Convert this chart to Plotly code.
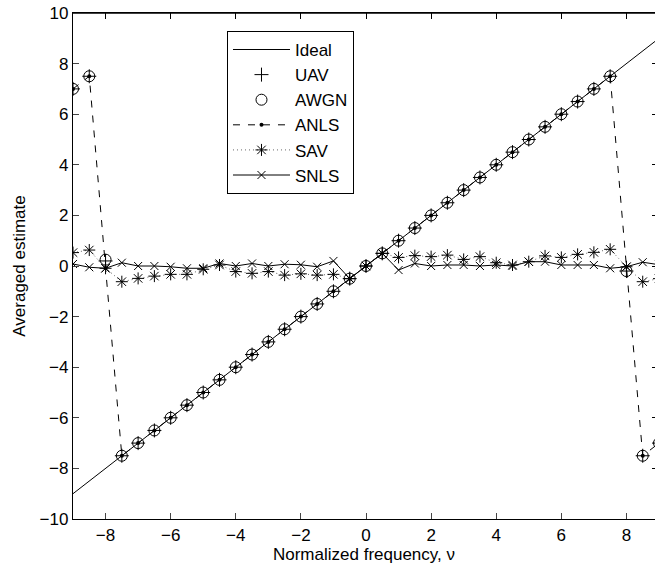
import plotly.graph_objects as go

nu = [-9, -8.5, -8, -7.5, -7, -6.5, -6, -5.5, -5, -4.5, -4, -3.5, -3, -2.5, -2, -1.5, -1, -0.5,
      0, 0.5, 1, 1.5, 2, 2.5, 3, 3.5, 4, 4.5, 5, 5.5, 6, 6.5, 7, 7.5, 8, 8.5, 9]

ideal_x = [-9, 9]
ideal_y = [-9, 9]

uav = [7, 7.5, 0.2, -7.5, -7, -6.5, -6, -5.5, -5, -4.5, -4, -3.5, -3, -2.5, -2, -1.5, -1, -0.5,
       0, 0.5, 1, 1.5, 2, 2.5, 3, 3.5, 4, 4.5, 5, 5.5, 6, 6.5, 7, 7.5, -0.2, -7.5, -7]
awgn = [7, 7.5, 0.25, -7.5, -7, -6.5, -6, -5.5, -5, -4.5, -4, -3.5, -3, -2.5, -2, -1.5, -1, -0.5,
        0, 0.5, 1, 1.5, 2, 2.5, 3, 3.5, 4, 4.5, 5, 5.5, 6, 6.5, 7, 7.5, -0.2, -7.5, -7]
anls = [7, 7.5, -0.08, -7.5, -7, -6.5, -6, -5.5, -5, -4.5, -4, -3.5, -3, -2.5, -2, -1.5, -1, -0.5,
        0, 0.5, 1, 1.5, 2, 2.5, 3, 3.5, 4, 4.5, 5, 5.5, 6, 6.5, 7, 7.5, -0.03, -7.5, -7]
sav = [0.53, 0.63, -0.09, -0.62, -0.49, -0.4, -0.33, -0.33, -0.13, 0.04, -0.22, -0.29, -0.22, -0.36,
       -0.31, -0.36, -0.33, -0.5, 0, 0.5, 0.34, 0.41, 0.37, 0.43, 0.26, 0.37, 0.13, 0.04, 0.17, 0.4,
       0.34, 0.46, 0.54, 0.66, -0.03, -0.62, -0.5]
snls = [0.08, -0.05, -0.09, 0.13, 0, 0, -0.03, -0.09, -0.09, 0.1, 0, 0.1, 0, 0.07, 0.05, -0.03, 0.2,
        -0.5, 0, 0.5, -0.16, 0.1, 0, 0.04, 0.04, 0, 0.04, 0, 0.17, 0.17, 0.04, 0.04, 0.04, -0.09,
        -0.03, 0.15, 0.05]

x_ticks = [-8, -6, -4, -2, 0, 2, 4, 6, 8]
y_ticks = [-10, -8, -6, -4, -2, 0, 2, 4, 6, 8, 10]

X_RANGE = [-9, 8.877]
Y_RANGE = [-10, 10]
FONT = "Liberation Sans, Arial, Helvetica, sans-serif"

fig = go.Figure()
fig.add_trace(go.Scatter(x=ideal_x, y=ideal_y, mode="lines", name="Ideal", xaxis="x2", yaxis="y2",
                         line=dict(color="black", width=1), legendgroup="a", legendrank=1))
fig.add_trace(go.Scatter(x=nu, y=uav, mode="markers", name="UAV", legendgroup="b", legendrank=2,
                         marker=dict(symbol="cross-thin-open", size=10, color="black",
                                     line=dict(color="black", width=1))))
fig.add_trace(go.Scatter(x=nu, y=awgn, mode="markers", name="AWGN", legendgroup="c", legendrank=3,
                         marker=dict(symbol="circle-open", size=11, color="black",
                                     line=dict(color="black", width=1))))
fig.add_trace(go.Scatter(x=nu, y=anls, mode="lines+markers", name="ANLS", legendgroup="d", legendrank=4,
                         line=dict(color="black", width=1, dash="7px,8px"),
                         marker=dict(symbol="circle", size=4, color="black")))
fig.add_trace(go.Scatter(x=nu, y=sav, mode="lines+markers", name="SAV", legendgroup="e", legendrank=5,
                         line=dict(color="#666666", width=1, dash="1px,3px"),
                         marker=dict(symbol="asterisk-open", size=10, color="black",
                                     line=dict(color="black", width=1))))
fig.add_trace(go.Scatter(x=nu, y=snls, mode="lines+markers", name="SNLS", legendgroup="f", legendrank=6,
                         line=dict(color="black", width=1),
                         marker=dict(symbol="x-thin-open", size=8, color="black",
                                     line=dict(color="black", width=1))))

fig.update_layout(
    width=655, height=566,
    margin=dict(l=73, r=0, t=13, b=47),
    paper_bgcolor="white", plot_bgcolor="white",
    font=dict(family=FONT, size=17, color="black"),
    showlegend=True,
    legend=dict(x=0.2646, y=0.9645, xanchor="left", yanchor="top",
                bgcolor="white", bordercolor="black", borderwidth=1,
                font=dict(size=17), tracegroupgap=0, itemwidth=57),
    xaxis=dict(range=X_RANGE, tickvals=x_ticks, ticks="inside", ticklen=6,
               showline=True, linecolor="black", linewidth=1.3, mirror="allticks",
               showgrid=False, zeroline=False, tickfont=dict(size=17),
               ticklabeloverflow="allow",
               title=dict(text="Normalized frequency, ν", font=dict(size=17), standoff=4)),
    yaxis=dict(range=Y_RANGE, tickvals=y_ticks, ticks="inside", ticklen=6,
               showline=True, linecolor="black", linewidth=1.3, mirror=False,
               showgrid=False, zeroline=False, tickfont=dict(size=17),
               ticklabeloverflow="allow",
               title=dict(text="Averaged estimate", font=dict(size=17), standoff=9)),
    xaxis2=dict(range=X_RANGE, tickvals=x_ticks, overlaying="x", side="top", anchor="y2",
                ticks="inside", ticklen=6, tickcolor="black", tickwidth=1.3,
                showticklabels=False, showline=True,
                linecolor="black", linewidth=1.3, showgrid=False, zeroline=False),
    yaxis2=dict(range=Y_RANGE, tickvals=y_ticks, overlaying="y", side="right", anchor="x2",
                ticks="inside", ticklen=3, tickcolor="black", showticklabels=False, showline=False,
                showgrid=False, zeroline=False),
    # plot frame top edge (axis box)
    shapes=[dict(type="line", xref="paper", yref="paper", x0=0, x1=1, y0=1, y1=1,
                 line=dict(color="black", width=1.3), layer="above")],
)

fig.write_html("out.html", config={"displayModeBar": False},
               post_script="document.body.style.margin='0';")
